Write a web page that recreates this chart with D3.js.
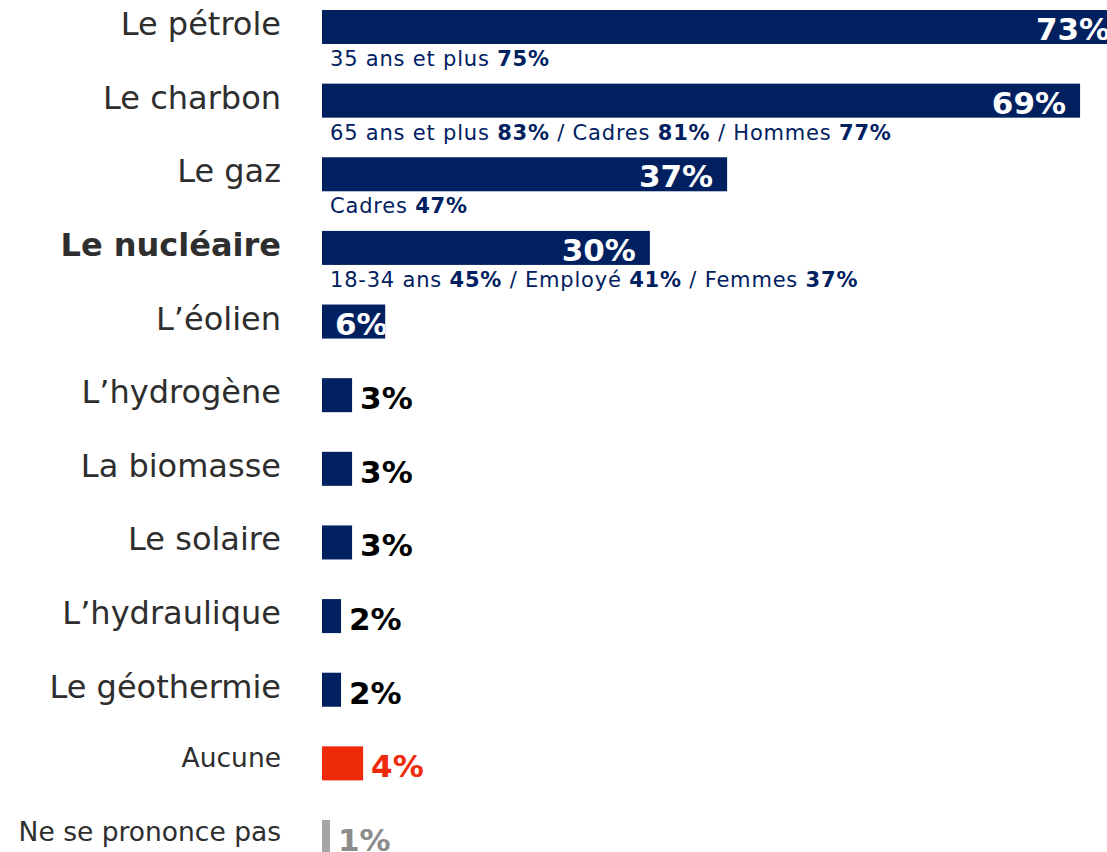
<!DOCTYPE html>
<html>
<head>
<meta charset="utf-8">
<script src="https://cdn.jsdelivr.net/npm/d3@7"></script>
<style>
  body { margin: 0; background: #fff; }
  svg { display: block; font-family: "DejaVu Sans", Verdana, sans-serif; }
</style>
</head>
<body>
<div id="chart"></div>
<script>
const categories = ["Le pétrole", "Le charbon", "Le gaz", "Le nucléaire", "L’éolien", "L’hydrogène",
  "La biomasse", "Le solaire", "L’hydraulique", "Le géothermie", "Aucune", "Ne se prononce pas"];
const values = [73, 69, 37, 30, 6, 3, 3, 3, 2, 2, 4, 1];

// sous-populations affichées sous certaines barres
const subgroups = {
  "Le pétrole": [["35 ans et plus", 75]],
  "Le charbon": [["65 ans et plus", 83], ["Cadres", 81], ["Hommes", 77]],
  "Le gaz": [["Cadres", 47]],
  "Le nucléaire": [["18-34 ans", 45], ["Employé", 41], ["Femmes", 37]]
};

const width = 1107, height = 852;
const navy = "#00205f", red = "#ee2a0a", grey = "#a6a6a6";
const smallLabels = ["Aucune", "Ne se prononce pas"];

const data = categories.map((c, i) => ({ cat: c, value: values[i] }));

const svg = d3.select("#chart").append("svg")
    .attr("width", width)
    .attr("height", height);

const x = d3.scaleLinear().domain([0, 100]).range([319, 1422]);
const y = d3.scaleBand().domain(categories).range([10, 854]).paddingInner(0.538).paddingOuter(0);

const barColor = d => d.cat === "Aucune" ? red : d.cat === "Ne se prononce pas" ? grey : navy;
const outsideColor = d => d.cat === "Aucune" ? red : d.cat === "Ne se prononce pas" ? "#8c8c8c" : "#000";
const inside = d => d.value >= 6;

// clip paths so labels inside bars get cut at the bar end
const defs = svg.append("defs");
defs.selectAll("clipPath")
    .data(data.filter(inside))
    .join("clipPath")
    .attr("id", (d, i) => "clip" + i)
    .append("rect")
    .attr("x", x(0) + 3)
    .attr("y", d => y(d.cat))
    .attr("width", d => x(d.value) - x(0) - 3)
    .attr("height", y.bandwidth());

svg.append("g")
    .selectAll("rect")
    .data(data)
    .join("rect")
    .attr("x", x(0) + 3)
    .attr("y", d => y(d.cat))
    .attr("width", d => x(d.value) - x(0) - 3)
    .attr("height", y.bandwidth())
    .attr("fill", barColor);

// category labels
svg.append("g")
    .selectAll("text")
    .data(data)
    .join("text")
    .attr("x", 281)
    .attr("y", d => y(d.cat) + y.bandwidth() / 2 + (smallLabels.includes(d.cat) ? 4 : 8))
    .attr("text-anchor", "end")
    .attr("fill", "#2e2e2e")
    .attr("font-size", d => smallLabels.includes(d.cat) ? 26.5 : 32)
    .attr("font-weight", d => d.cat === "Le nucléaire" ? "bold" : "normal")
    .text(d => d.cat);

// value labels inside bars
svg.append("g")
    .selectAll("text")
    .data(data.filter(inside))
    .join("text")
    .attr("clip-path", (d, i) => `url(#clip${i})`)
    .attr("x", d => x(d.value) - x(0) < 90 ? x(0) + 16 : x(d.value) - 14)
    .attr("y", d => y(d.cat) + y.bandwidth() - 4)
    .attr("text-anchor", d => x(d.value) - x(0) < 90 ? "start" : "end")
    .attr("fill", "#fff")
    .attr("font-size", 31)
    .attr("font-weight", "bold")
    .text(d => d.value + "%");

// value labels outside small bars
svg.append("g")
    .selectAll("text")
    .data(data.filter(d => !inside(d)))
    .join("text")
    .attr("x", d => x(d.value) + 8)
    .attr("y", d => y(d.cat) + y.bandwidth() - 3)
    .attr("fill", outsideColor)
    .attr("font-size", 31)
    .attr("font-weight", "bold")
    .text(d => d.value + "%");

// sub-group lines under the bars
const sub = svg.append("g")
    .selectAll("text")
    .data(data.filter(d => subgroups[d.cat]))
    .join("text")
    .attr("x", 330)
    .attr("y", d => y(d.cat) + y.bandwidth() + 22)
    .attr("fill", navy)
    .attr("font-size", 21)
    .attr("letter-spacing", 0.8);

sub.each(function(d) {
    const t = d3.select(this);
    subgroups[d.cat].forEach(([label, v], i) => {
        t.append("tspan").text((i > 0 ? " / " : "") + label + " ");
        t.append("tspan").attr("font-weight", "bold").text(v + "%");
    });
});
</script>
</body>
</html>
